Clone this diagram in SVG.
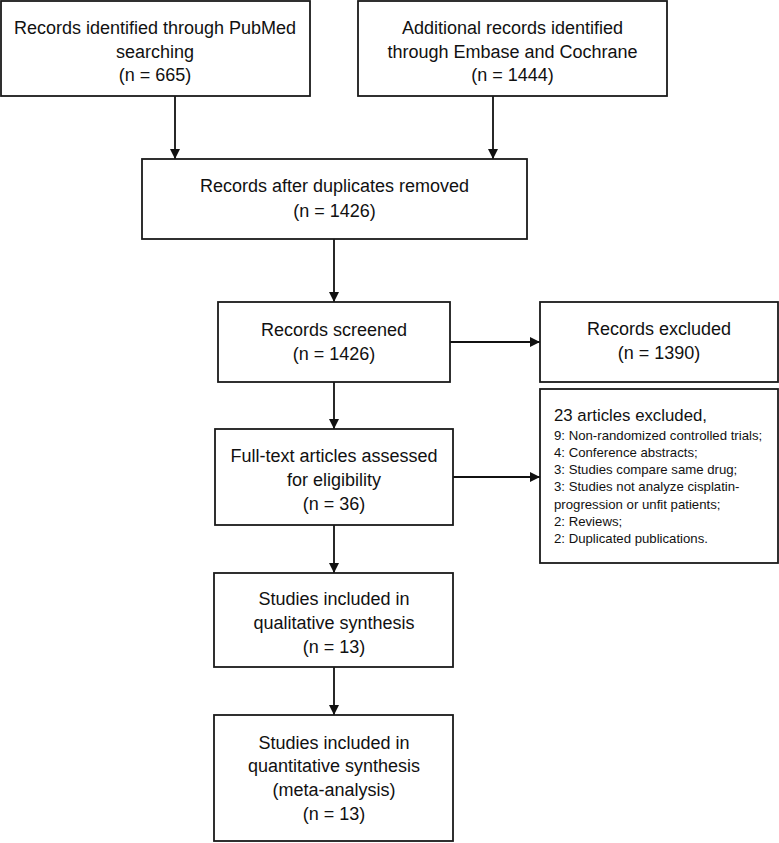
<svg xmlns="http://www.w3.org/2000/svg" width="779" height="843" viewBox="0 0 779 843">
<style>
.box{fill:#fff;stroke:#1a1a1a;stroke-width:1.8}
.t{font-family:"Liberation Sans",Arial,sans-serif;font-size:18px;fill:#111;text-anchor:middle}
.s{font-family:"Liberation Sans",Arial,sans-serif;font-size:13.2px;fill:#111}
.h{font-family:"Liberation Sans",Arial,sans-serif;font-size:16.8px;fill:#111}
.c{stroke:#111;stroke-width:1.8;fill:none;marker-end:url(#ah)}
</style>
<defs>
<marker id="ah" markerUnits="userSpaceOnUse" markerWidth="10" markerHeight="10" refX="10" refY="5" orient="auto">
<path d="M0,0 L10,5 L0,10 z" fill="#111"/>
</marker>
</defs>
<rect width="779" height="843" fill="#fff"/>
<g id="connectors">
<line class="c" x1="175" y1="96" x2="175" y2="159"/>
<line class="c" x1="493" y1="96" x2="493" y2="159"/>
<line class="c" x1="334" y1="239" x2="334" y2="302"/>
<line class="c" x1="334" y1="382" x2="334" y2="429"/>
<line class="c" x1="334" y1="525" x2="334" y2="573"/>
<line class="c" x1="334" y1="667" x2="334" y2="715"/>
<line class="c" x1="450" y1="342" x2="540" y2="342"/>
<line class="c" x1="453" y1="477" x2="540" y2="477"/>
</g>
<g id="pubmed">
<rect class="box" x="1" y="1" width="309" height="95"/>
<text class="t" x="155" y="33.5">Records identified through PubMed</text>
<text class="t" x="155" y="57.5">searching</text>
<text class="t" x="155" y="81">(n = 665)</text>
</g>
<g id="embase">
<rect class="box" x="358" y="1" width="309" height="95"/>
<text class="t" x="512.5" y="33.5">Additional records identified</text>
<text class="t" x="512.5" y="57.5">through Embase and Cochrane</text>
<text class="t" x="512.5" y="81">(n = 1444)</text>
</g>
<g id="duplicates">
<rect class="box" x="142" y="159" width="385" height="80"/>
<text class="t" x="334.5" y="191.5">Records after duplicates removed</text>
<text class="t" x="334.5" y="216.5">(n = 1426)</text>
</g>
<g id="screened">
<rect class="box" x="218" y="302" width="232" height="80"/>
<text class="t" x="334" y="335.5">Records screened</text>
<text class="t" x="334" y="359.5">(n = 1426)</text>
</g>
<g id="excluded">
<rect class="box" x="540" y="302" width="238" height="80"/>
<text class="t" x="659" y="334.5">Records excluded</text>
<text class="t" x="659" y="358.5">(n = 1390)</text>
</g>
<g id="fulltext">
<rect class="box" x="215" y="429" width="238" height="96"/>
<text class="t" x="334" y="462">Full-text articles assessed</text>
<text class="t" x="334" y="486">for eligibility</text>
<text class="t" x="334" y="510">(n = 36)</text>
</g>
<g id="articles-excluded">
<rect class="box" x="540" y="389" width="238" height="174"/>
<text class="h" x="554" y="421">23 articles excluded,</text>
<text class="s" x="554" y="440">9: Non-randomized controlled trials;</text>
<text class="s" x="554" y="457">4: Conference abstracts;</text>
<text class="s" x="554" y="474">3: Studies compare same drug;</text>
<text class="s" x="554" y="491">3: Studies not analyze cisplatin-</text>
<text class="s" x="554" y="509">progression or unfit patients;</text>
<text class="s" x="554" y="526">2: Reviews;</text>
<text class="s" x="554" y="543">2: Duplicated publications.</text>
</g>
<g id="qualitative">
<rect class="box" x="214" y="573" width="239" height="94"/>
<text class="t" x="334" y="604.5">Studies included in</text>
<text class="t" x="334" y="628.5">qualitative synthesis</text>
<text class="t" x="334" y="652.5">(n = 13)</text>
</g>
<g id="quantitative">
<rect class="box" x="214" y="715" width="239" height="126"/>
<text class="t" x="334" y="748.5">Studies included in</text>
<text class="t" x="334" y="771.5">quantitative synthesis</text>
<text class="t" x="334" y="795.5">(meta-analysis)</text>
<text class="t" x="334" y="819.5">(n = 13)</text>
</g>
</svg>
